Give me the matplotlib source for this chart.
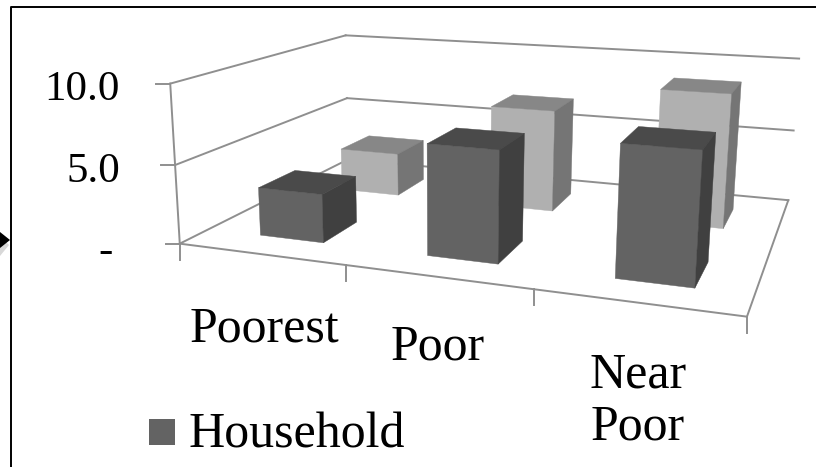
import numpy as np
import matplotlib
matplotlib.use("Agg")
import matplotlib.pyplot as plt
from matplotlib.patches import Polygon, Rectangle

categories = ["Poorest", "Poor", "Near\nPoor"]
household = [3.1, 6.85, 7.8]
other_series = [3.0, 6.9, 8.8]
value_ticks = [0, 5, 10]
value_labels = ["-", "5.0", "10.0"]
legend_label = "Household"

GRID = "#8f8f8f"
FONT = "Liberation Serif"

# corners of the chart box (category, depth, value) -> pixel
box_world = [(0, 0, 0), (3, 0, 0), (3, 1, 0), (0, 1, 0),
             (0, 0, 10), (0, 1, 10), (3, 1, 10), (0, 0, 5), (0, 1, 5), (3, 1, 5)]
box_pixel = [(182, 243), (747, 317), (788, 200), (347, 160),
             (170, 84), (347, 35), (798, 59), (173, 165), (347, 98), (795, 130)]


def fit_camera(world, pixel):
    rows = []
    for (x, y, z), (u, v) in zip(world, pixel):
        rows.append([x, y, z, 1, 0, 0, 0, 0, -u * x, -u * y, -u * z, -u])
        rows.append([0, 0, 0, 0, x, y, z, 1, -v * x, -v * y, -v * z, -v])
    _, _, vt = np.linalg.svd(np.array(rows, dtype=float))
    return vt[-1].reshape(3, 4)


camera = fit_camera(box_world, box_pixel)


def project(x, y, z):
    u, v, w = camera @ np.array([x, y, z, 1.0])
    return u / w, v / w


def line3d(ax, a, b):
    pa, pb = project(*a), project(*b)
    ax.plot([pa[0], pb[0]], [pa[1], pb[1]], color=GRID, lw=1.4, zorder=1,
            solid_capstyle="projecting")


def bar3d(ax, x0, x1, y0, y1, value, front, top, side, zorder):
    faces = [
        ([(x0, y0, 0), (x1, y0, 0), (x1, y0, value), (x0, y0, value)], front),
        ([(x0, y0, value), (x1, y0, value), (x1, y1, value), (x0, y1, value)], top),
        ([(x1, y0, 0), (x1, y1, 0), (x1, y1, value), (x1, y0, value)], side),
    ]
    for corners, color in faces:
        ax.add_patch(Polygon([project(*c) for c in corners], closed=True, facecolor=color,
                             edgecolor=color, lw=0.3, zorder=zorder))


fig = plt.figure(figsize=(8.16, 4.67), dpi=100)
ax = fig.add_axes([0, 0, 1, 1])
ax.set_xlim(0, 816)
ax.set_ylim(467, 0)
ax.axis("off")

# outer frame and the arrow head poking in from the left
ax.plot([816, 11, 11], [7, 7, 467], color="black", lw=1.4, zorder=5)
ax.add_patch(Polygon([(0, 236), (9, 245), (0, 256)], closed=True, facecolor="#d8d8d8",
                     edgecolor="none", zorder=4))
ax.add_patch(Polygon([(0, 232), (10, 240), (0, 248)], closed=True, facecolor="black",
                     edgecolor="none", zorder=5))

# walls, floor and gridlines
for v in value_ticks:
    line3d(ax, (0, 0, v), (0, 1, v))
    line3d(ax, (0, 1, v), (3, 1, v))
    px, py = project(0, 0, v)
    ax.plot([px - 14, px], [py, py], color=GRID, lw=1.4, zorder=1)
line3d(ax, (0, 0, 0), (0, 0, 10))
line3d(ax, (0, 0, 0), (3, 0, 0))
line3d(ax, (3, 0, 0), (3, 1, 0))
for i in range(4):
    px, py = project(i, 0, 0)
    ax.plot([px, px], [py, py + 16], color=GRID, lw=1.4, zorder=1)

# back row first so the front row covers it
for i, val in enumerate(other_series):
    bar3d(ax, i + 0.32, i + 0.71, 0.64, 0.84, val, "#b0b0b0", "#878787", "#757575", 2 + i)
for i, val in enumerate(household):
    bar3d(ax, i + 0.33, i + 0.72, 0.14, 0.34, val, "#636363", "#4a4a4a", "#404040", 6 + i)

value_right = [113, 120, 120]
value_base = [262, 182, 100]
for lx, ly, label in zip(value_right, value_base, value_labels):
    ax.text(lx, ly, label, family=FONT, fontsize=31, ha="right", va="baseline", color="black")

label_x = [264, 438, 638]
label_base = [341, 360, 439]
for lx, ly, label in zip(label_x, label_base, categories):
    ax.text(lx, ly, label, family=FONT, fontsize=36, ha="center", va="baseline", color="black",
            linespacing=1.13)

ax.add_patch(Rectangle((149, 419), 26, 26, facecolor="#636363", edgecolor="none"))
ax.text(188, 447, legend_label, family=FONT, fontsize=36, ha="left", va="baseline", color="black")

fig.savefig("out.png", dpi=100)
